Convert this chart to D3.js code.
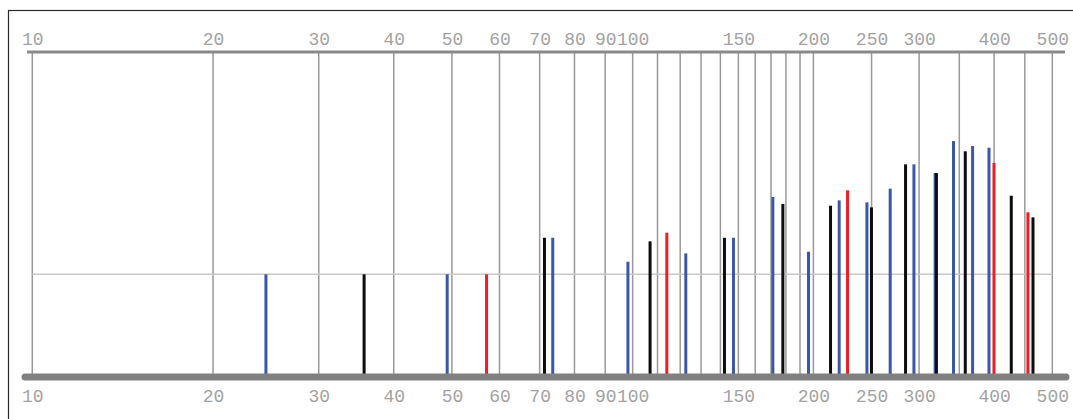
<!DOCTYPE html>
<html>
<head>
<meta charset="utf-8">
<script src="https://cdn.jsdelivr.net/npm/d3@7"></script>
<style>
  body { margin: 0; background: #fff; }
  svg { display: block; }
  .lbl text { font-family: "Liberation Mono", "DejaVu Sans Mono", monospace; font-size: 18px; fill: #a2a2a2; }
</style>
</head>
<body>
<svg id="chart" width="1073" height="419"></svg>
<script>
// grid lines and labels (log axis)
const gridValues = [10, 20, 30, 40, 50, 60, 70, 80, 90, 100, 110, 120, 130, 140, 150, 160, 170, 180, 190, 200, 250, 300, 350, 400, 450, 500];
const labelValues = [10, 20, 30, 40, 50, 60, 70, 80, 90, 100, 150, 200, 250, 300, 400, 500];
const hGrid = [1];

// peaks by colour: position and height (gridline = 1)
const blueX = [24.5, 49.1, 73.6, 98.2, 122.6, 147.2, 171.2, 196.3, 220.8, 245.6, 268.5, 294.1, 319.0, 342.3, 368.3, 392.2];
const blueY = [1.0, 1.0, 1.356, 1.123, 1.204, 1.356, 1.753, 1.22, 1.72, 1.701, 1.834, 2.071, 1.986, 2.298, 2.249, 2.233];
const blackX = [35.7, 71.3, 106.9, 142.2, 177.9, 213.6, 249.9, 284.8, 320.6, 358.1, 427.2, 464.3];
const blackY = [1.0, 1.356, 1.321, 1.356, 1.685, 1.668, 1.652, 2.071, 1.986, 2.198, 1.765, 1.555];
const redX = [57.1, 114.0, 228.0, 399.8, 455.4];
const redY = [1.0, 1.405, 1.818, 2.084, 1.604];

const svg = d3.select("#chart");
const x = d3.scaleLog().domain([10, 500]).range([32.3, 1052.3]);
const y = d3.scaleLinear().domain([0, 3.17]).range([377, 51.5]);

// frame
svg.append("rect")
  .attr("x", 8.5).attr("y", 10.5)
  .attr("width", 1100).attr("height", 430)
  .attr("fill", "none").attr("stroke", "#2a2a2a").attr("stroke-width", 1.2);

// vertical grid
svg.append("g")
  .selectAll("line")
  .data(gridValues)
  .enter()
  .append("line")
  .attr("x1", (d) => x(d)).attr("x2", (d) => x(d))
  .attr("y1", y.range()[1]).attr("y2", y(0))
  .attr("stroke", "#999").attr("stroke-width", 1.5);

// horizontal grid
svg.append("g")
  .selectAll("line")
  .data(hGrid)
  .enter()
  .append("line")
  .attr("x1", x(10)).attr("x2", x(500))
  .attr("y1", (d) => y(d)).attr("y2", (d) => y(d))
  .attr("stroke", "#c8c8c8").attr("stroke-width", 1.5);

// bars
const series = [
  { color: "#3b58a8", xs: blueX, ys: blueY },
  { color: "#0d0d0d", xs: blackX, ys: blackY },
  { color: "#f01c24", xs: redX, ys: redY }
];
series.forEach((s) => {
  svg.append("g")
    .selectAll("rect")
    .data(d3.zip(s.xs, s.ys))
    .enter()
    .append("rect")
    .attr("x", (d) => x(d[0]) - 1.5)
    .attr("width", 3)
    .attr("y", (d) => y(d[1]))
    .attr("height", (d) => y(0) - y(d[1]))
    .attr("fill", s.color);
});

// top axis bar
svg.append("line")
  .attr("x1", 27).attr("x2", 1065)
  .attr("y1", 52).attr("y2", 52)
  .attr("stroke", "#8a8a8a").attr("stroke-width", 3);

// bottom axis bar
svg.append("line")
  .attr("x1", 25).attr("x2", 1066)
  .attr("y1", 377).attr("y2", 377)
  .attr("stroke", "#808080").attr("stroke-width", 7)
  .attr("stroke-linecap", "round");

// labels
const topAxis = d3.axisTop(x).tickValues(labelValues).tickFormat(d3.format("d")).tickSize(0).tickPadding(0);
svg.append("g")
  .attr("class", "lbl")
  .attr("transform", "translate(0,44.5)")
  .call(topAxis)
  .call((g) => g.select(".domain").remove());

const bottomAxis = d3.axisBottom(x).tickValues(labelValues).tickFormat(d3.format("d")).tickSize(0).tickPadding(0);
svg.append("g")
  .attr("class", "lbl")
  .attr("transform", "translate(0,402)")
  .call(bottomAxis)
  .call((g) => g.select(".domain").remove())
  .call((g) => g.selectAll("text").attr("dy", 0));
</script>
</body>
</html>
